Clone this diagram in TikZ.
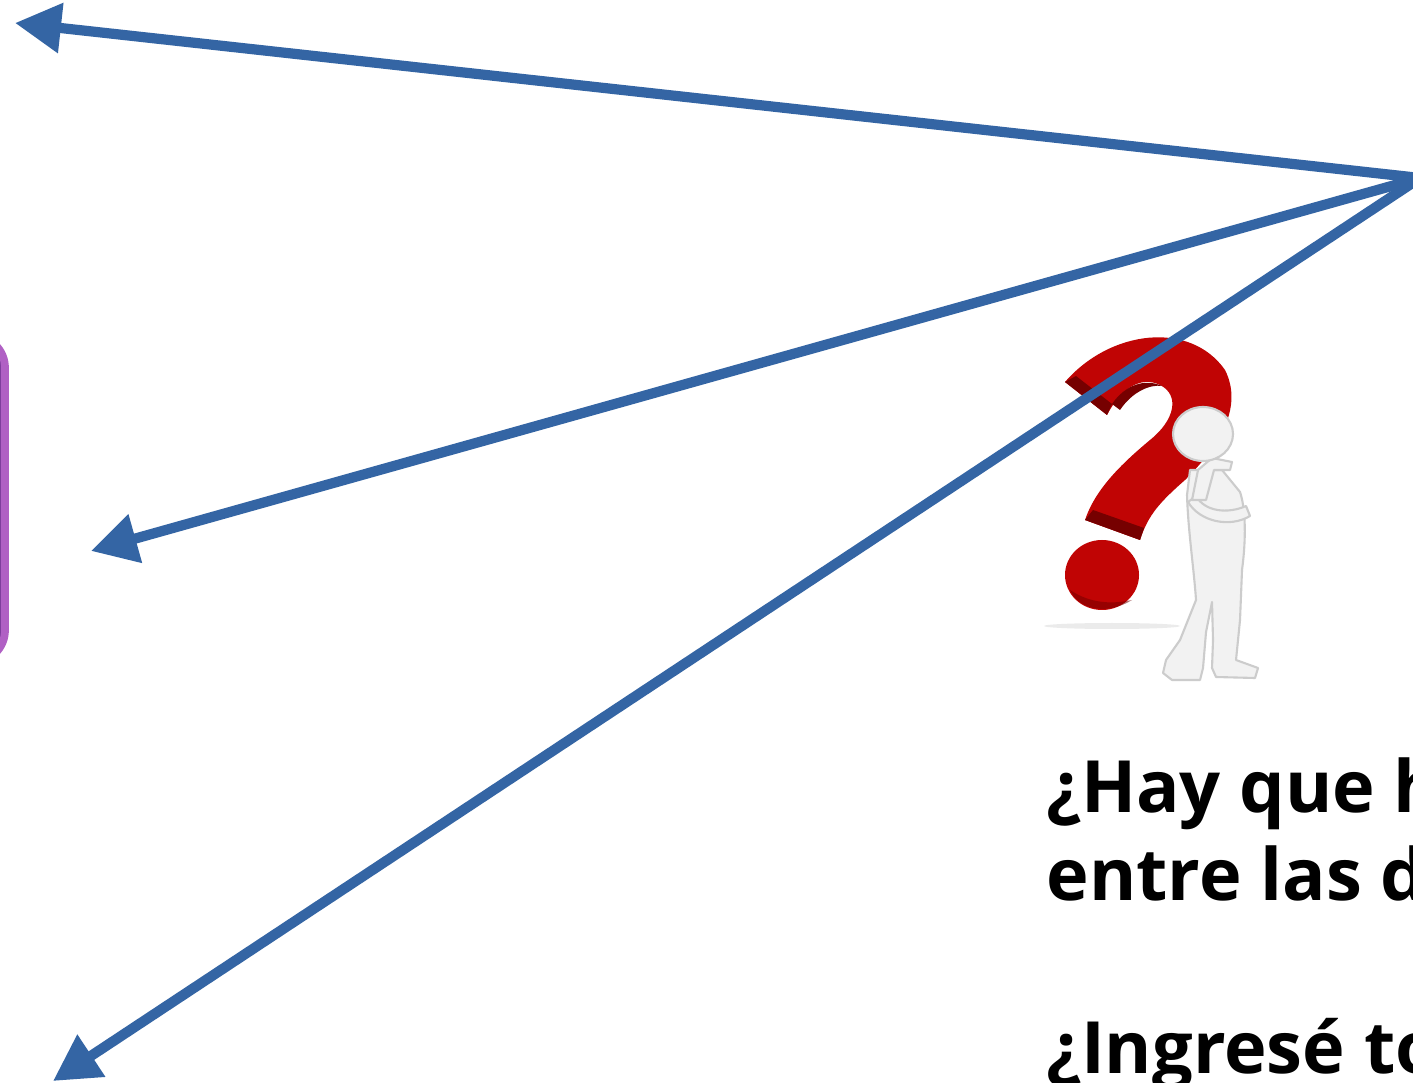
\documentclass[tikz,border=0pt]{standalone}
\usepackage{fontspec}
\setmainfont{Open Sans}
\usetikzlibrary{arrows.meta,positioning}
\definecolor{arrowblue}{RGB}{52,101,164}
\definecolor{qred}{RGB}{192,4,4}
\definecolor{qdark}{RGB}{118,0,0}
\definecolor{boxpurple}{RGB}{126,62,156}
\definecolor{boxedge}{RGB}{176,96,196}
\tikzset{
  pfeil/.style={-{Triangle[length=4.6mm,width=4.8mm]},line width=2.9pt,arrowblue},
  frage/.style={anchor=base west,inner sep=0pt,font=\fontsize{20.5}{25}\selectfont\bfseries},
  mann/.style={fill=gray!10,draw=gray!40,line width=0.6pt,line join=round}
}
\begin{document}
\begin{tikzpicture}[x=0.01cm,y=-0.01cm]
        \useasboundingbox (0,0) rectangle (1413,1083);
        \fill[white] (0,0) rectangle (1413,1083);

        %box left
        \draw[fill=boxpurple,draw=boxedge,line width=2.2pt,rounded corners=9pt] (-60,336) rectangle (5,662);

        %question mark
        \fill[gray!25,opacity=0.6] (1112,626) ellipse (68 and 3);
        \fill[qred] (1065,382) .. controls (1110,330) and (1190,320) .. (1225,370)
            .. controls (1245,410) and (1215,450) .. (1185,480)
            .. controls (1160,502) and (1148,515) .. (1140,540)
            -- (1085,520) .. controls (1095,490) and (1120,465) .. (1150,440)
            .. controls (1175,420) and (1180,395) .. (1160,385)
            .. controls (1140,375) and (1120,390) .. (1107,415) -- cycle;
        \fill[qdark] (1065,382) -- (1107,415) -- (1112,404) -- (1076,376) -- cycle;
        \fill[qdark] (1112,404) .. controls (1125,385) and (1145,378) .. (1162,386)
            .. controls (1150,384) and (1132,392) .. (1120,410) -- cycle;
        \fill[qdark] (1085,520) -- (1140,540) -- (1144,528) -- (1093,510) -- cycle;
        \fill[qred] (1102,575) ellipse (37 and 35);
        \fill[qdark,opacity=0.55] (1070,590) .. controls (1080,612) and (1110,614) .. (1132,600)
            .. controls (1105,606) and (1085,600) .. (1070,590) -- cycle;

        %thinking man
        \draw[mann] (1190,470) -- (1187,495) .. controls (1188,530) and (1194,570) .. (1196,600)
            -- (1180,640) -- (1166,660) -- (1163,673) -- (1172,680) -- (1200,680) -- (1203,668)
            -- (1206,632) -- (1212,602) -- (1213,640) -- (1212,668) -- (1216,677) -- (1255,678)
            -- (1258,668) -- (1236,660) -- (1240,620) -- (1242,570)
            .. controls (1246,540) and (1246,510) .. (1240,492) -- (1222,470) -- cycle;
        \draw[mann] (1188,502) .. controls (1200,522) and (1230,528) .. (1250,516)
            -- (1246,506) .. controls (1228,514) and (1205,512) .. (1196,496) -- cycle;
        \draw[mann] (1192,500) -- (1198,470) -- (1212,458) -- (1232,462) -- (1230,470)
            -- (1214,470) -- (1206,500) -- cycle;
        \draw[mann] (1203,434) ellipse (30 and 27);

        %arrows
        \coordinate (quelle) at (1420,178);
        \coordinate (oben) at (15,23);
        \coordinate (mitte) at (91,551);
        \coordinate (unten) at (53,1081);
        \draw[pfeil] (quelle) -- (oben);
        \draw[pfeil] (quelle) -- (mitte);
        \draw[pfeil] (quelle) -- (unten);

        %text
        \node[frage] (zeile1) at (1046,812) {¿Hay que h};
        \node[frage] (zeile2) at (1046,900) {entre las d};
        \node[frage] (zeile3) at (1046,1073) {¿Ingresé to};
    \end{tikzpicture}
\end{document}
